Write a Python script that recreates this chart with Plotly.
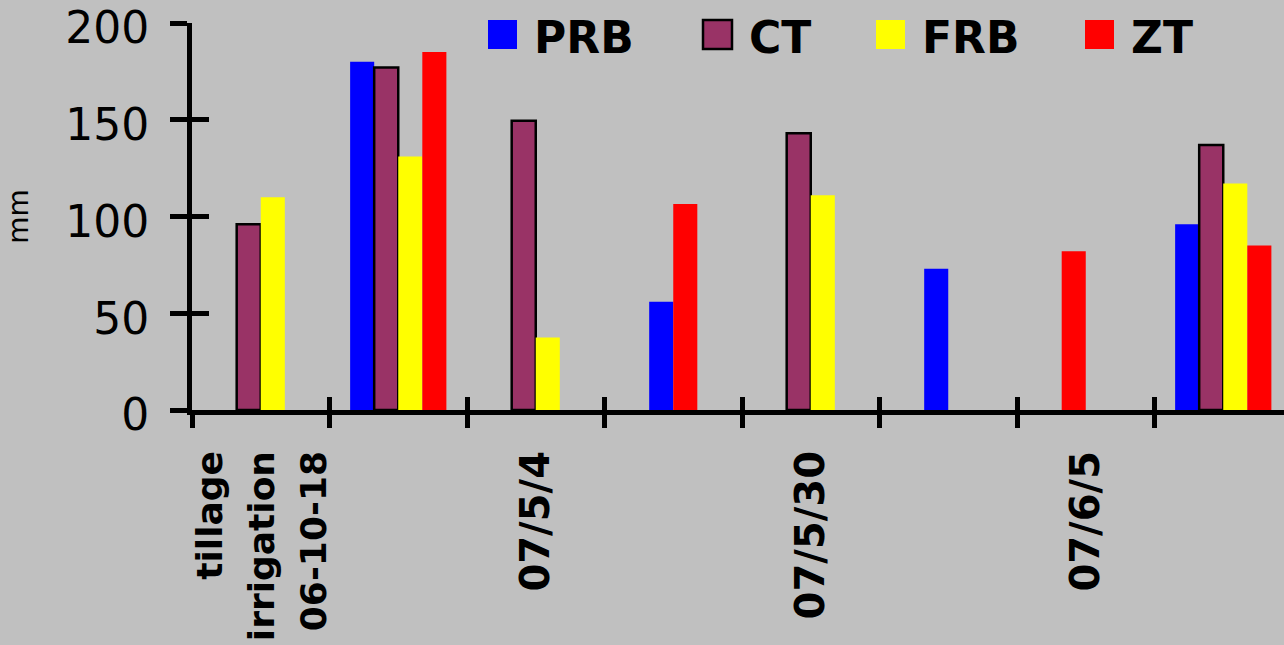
import plotly.graph_objects as go

categories = ["tillage<br>irrigation<br>06-10-18", "c2", "07/5/4", "c4", "07/5/30", "c6", "07/6/5", "c8"]
tick_labels = ['<span style="font-size:36px">tillage<br>irrigation<br>06-10-18</span>',
               "", "07/5/4", "", "07/5/30", "", "07/6/5", ""]

series_names = ["PRB", "CT", "FRB", "ZT"]
prb = [None, 180, None, 56, None, 73, None, 96]
ct = [96, 177, 149.5, None, 143, None, None, 137]
frb = [110, 131, 37.5, None, 111, None, None, 117]
zt = [None, 185, None, 106.5, None, None, 82, 85]
series_values = [prb, ct, frb, zt]
colors = ["#0000FF", "#993366", "#FFFF00", "#FF0000"]
outline = [0, 2.5, 0, 0]

BG = "#C0C0C0"
W = 0.175  # bar width in category units
n_series = len(series_names)

# slot of each present bar: present bars in a category are placed consecutively
slots = [[None] * len(categories) for _ in range(n_series)]
for i in range(len(categories)):
    present = [s for s in range(n_series) if series_values[s][i] is not None]
    start = (n_series - len(present)) // 2
    for k, s in enumerate(present):
        slots[s][i] = start + k

fig = go.Figure()
for s in range(n_series):
    offs = [(-n_series / 2 + sl) * W if sl is not None else 0 for sl in slots[s]]
    fig.add_trace(go.Bar(
        x=categories, y=series_values[s], name=series_names[s],
        width=W, offset=offs,
        marker=dict(color=colors[s], line=dict(color="black", width=outline[s])),
        showlegend=False,
    ))

# axis range: categories span 137.5 px each, plot area 1092 px wide
xr = [-0.5, -0.5 + 1092 / 137.5]

fig.update_layout(
    width=1284, height=645,
    margin=dict(l=192, r=0, t=23, b=235, pad=0),
    paper_bgcolor=BG, plot_bgcolor=BG,
    barmode="overlay",
    font=dict(family="DejaVu Sans", color="black"),
    xaxis=dict(
        type="category", range=xr, tickmode="array",
        tickvals=categories, ticktext=tick_labels,
        tickson="boundaries", ticks="outside", ticklen=13, tickwidth=5, tickcolor="black",
        tickangle=-90, tickfont=dict(family="DejaVu Sans", size=40, weight="bold", color="black"),
        ticklabelstandoff=20,
        showline=True, linewidth=5, linecolor="black", showgrid=False, zeroline=False,
        automargin=False,
    ),
    xaxis2=dict(
        overlaying="x", anchor="y", side="bottom", range=xr,
        tickmode="array", tickvals=[i - 0.5 for i in range(len(categories) + 1)],
        ticks="inside", ticklen=13, tickwidth=5, tickcolor="black",
        showticklabels=False, showline=False, showgrid=False, zeroline=False,
    ),
    yaxis=dict(
        range=[0, 200], tickmode="array", tickvals=[0, 50, 100, 150, 200],
        ticks="outside", ticklen=17, tickwidth=5, tickcolor="black",
        tickfont=dict(family="DejaVu Sans", size=44, color="black"),
        ticklabelstandoff=12, ticklabeloverflow="allow", ticklabelshift=5,
        showline=True, linewidth=5, linecolor="black", showgrid=False, zeroline=False,
        title=dict(text="mm", font=dict(family="DejaVu Sans", size=28, color="black"), standoff=30),
        automargin=False,
    ),
    yaxis2=dict(
        overlaying="y", anchor="x", side="left", range=[0, 200],
        tickmode="array", tickvals=[0, 50, 100, 150, 200],
        ticks="inside", ticklen=17, tickwidth=5, tickcolor="black",
        showticklabels=False, showline=False, showgrid=False, zeroline=False,
    ),
)

# dummy invisible trace so overlay axes render
fig.add_trace(go.Scatter(x=[0], y=[0], xaxis="x2", yaxis="y2", mode="markers",
                         marker=dict(opacity=0), showlegend=False, hoverinfo="skip"))

# custom legend (large square keys) at the top
legend_px = [488, 703, 876, 1085]  # left edge of each key square, px
def px_x(p):
    return (p - 192) / 1092
def px_y(p):
    return (410 - p) / 387
for s in range(n_series):
    x0 = legend_px[s]
    fig.add_shape(type="rect", xref="paper", yref="paper",
                  x0=px_x(x0), x1=px_x(x0 + 29), y0=px_y(49), y1=px_y(20),
                  fillcolor=colors[s],
                  line=dict(color="black" if outline[s] else colors[s], width=outline[s] if outline[s] else 0))
    fig.add_annotation(xref="paper", yref="paper", x=px_x(x0 + 44), y=px_y(37),
                       xanchor="left", yanchor="middle", showarrow=False,
                       text=series_names[s],
                       font=dict(family="DejaVu Sans", size=44, weight="bold", color="black"))

fig.write_html("out.html", config={"displayModeBar": False},
               post_script="document.body.style.margin='0';document.body.style.background='#C0C0C0';")
